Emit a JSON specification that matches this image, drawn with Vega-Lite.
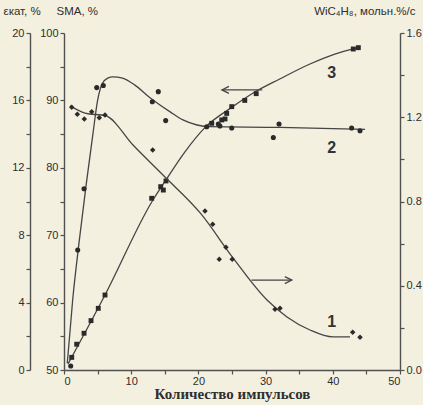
{
  "$schema": "https://vega.github.io/schema/vega-lite/v6.json",
  "width": 336,
  "height": 337,
  "autosize": {"type": "none"},
  "padding": {"left": 64, "top": 33, "right": 23, "bottom": 35},
  "background": "#f3f0e0",
  "config": {
    "view": {"stroke": null},
    "axis": {
      "grid": false,
      "domainColor": "#505050",
      "tickColor": "#505050",
      "labelColor": "#2e2e2e",
      "labelFont": "Liberation Sans",
      "labelFontSize": 11,
      "domainWidth": 1.4,
      "tickWidth": 1.2,
      "tickSize": 4,
      "labelPadding": 2,
      "titleColor": "#2e2e2e",
      "titleFont": "Liberation Sans",
      "titleFontWeight": "normal",
      "titleFontSize": 11.5
    }
  },
  "datasets": {
    "eps_pts": [
      {"x": 1.15, "v": 0.75}, {"x": 1.89, "v": 1.53}, {"x": 2.98, "v": 2.18}, {"x": 4.02, "v": 2.93},
      {"x": 5.1, "v": 3.66}, {"x": 6.1, "v": 4.45}, {"x": 13.05, "v": 10.19}, {"x": 14.39, "v": 10.88},
      {"x": 14.78, "v": 10.68}, {"x": 15.18, "v": 11.22}, {"x": 21.98, "v": 14.64}, {"x": 23.47, "v": 14.84},
      {"x": 23.96, "v": 14.9}, {"x": 24.21, "v": 15.23}, {"x": 24.96, "v": 15.63}, {"x": 26.9, "v": 16.0},
      {"x": 28.6, "v": 16.4}, {"x": 43.05, "v": 19.05}, {"x": 43.8, "v": 19.13}
    ],
    "eps_line": [
      {"x": 0.6, "v": 0.36}, {"x": 6.1, "v": 4.45}, {"x": 13.1, "v": 10.0}, {"x": 15.2, "v": 11.3},
      {"x": 18.0, "v": 12.95}, {"x": 21.0, "v": 14.4}, {"x": 25.0, "v": 15.6}, {"x": 28.4, "v": 16.5},
      {"x": 32.1, "v": 17.27}, {"x": 36.6, "v": 18.16}, {"x": 40.3, "v": 18.75}, {"x": 43.45, "v": 19.11}
    ],
    "eps_lab": [{"x": 39.84, "v": 17.61, "t": "3"}],
    "eps_arrow": [{"x": 23.5, "x2": 29.5, "v": 16.62}],
    "s_pts": [
      {"x": 1.0, "v": 50.6}, {"x": 2.04, "v": 67.8}, {"x": 2.98, "v": 76.9}, {"x": 4.87, "v": 91.9},
      {"x": 5.85, "v": 92.2}, {"x": 13.14, "v": 89.8}, {"x": 14.03, "v": 91.3}, {"x": 15.13, "v": 87.0},
      {"x": 21.24, "v": 86.1}, {"x": 22.96, "v": 86.5}, {"x": 23.2, "v": 86.2}, {"x": 24.96, "v": 85.9},
      {"x": 32.0, "v": 86.5}, {"x": 31.15, "v": 84.5}, {"x": 42.8, "v": 85.9}, {"x": 44.05, "v": 85.5}
    ],
    "s_line": [
      {"x": 0.49, "v": 51.0}, {"x": 1.3, "v": 60.5}, {"x": 2.25, "v": 69.0}, {"x": 3.3, "v": 77.5},
      {"x": 4.3, "v": 85.0}, {"x": 5.0, "v": 90.0}, {"x": 5.7, "v": 92.5}, {"x": 6.5, "v": 93.3},
      {"x": 7.3, "v": 93.5}, {"x": 8.7, "v": 93.3}, {"x": 10.5, "v": 92.3}, {"x": 12.8, "v": 90.4},
      {"x": 15.8, "v": 88.3}, {"x": 17.7, "v": 87.1}, {"x": 19.8, "v": 86.35}, {"x": 21.7, "v": 86.1},
      {"x": 32.1, "v": 86.0}, {"x": 44.8, "v": 85.7}
    ],
    "s_lab": [{"x": 39.84, "v": 82.89, "t": "2"}],
    "w_pts": [
      {"x": 1.15, "v": 1.247}, {"x": 1.98, "v": 1.214}, {"x": 3.02, "v": 1.192}, {"x": 4.12, "v": 1.226},
      {"x": 5.25, "v": 1.198}, {"x": 6.1, "v": 1.211}, {"x": 13.2, "v": 1.045}, {"x": 20.98, "v": 0.755},
      {"x": 22.13, "v": 0.692}, {"x": 24.1, "v": 0.583}, {"x": 23.1, "v": 0.526}, {"x": 25.04, "v": 0.526},
      {"x": 31.4, "v": 0.288}, {"x": 32.14, "v": 0.293}, {"x": 42.96, "v": 0.179}, {"x": 44.05, "v": 0.155}
    ],
    "w_line": [
      {"x": 0.89, "v": 1.254}, {"x": 3.13, "v": 1.22}, {"x": 6.25, "v": 1.206}, {"x": 10.27, "v": 1.068},
      {"x": 15.03, "v": 0.916}, {"x": 20.39, "v": 0.741}, {"x": 25.15, "v": 0.532}, {"x": 30.21, "v": 0.332},
      {"x": 33.18, "v": 0.252}, {"x": 36.6, "v": 0.19}, {"x": 40.03, "v": 0.157}, {"x": 42.56, "v": 0.157}
    ],
    "w_lab": [{"x": 39.84, "v": 0.229, "t": "1"}],
    "w_arrow": [{"x": 27.9, "x2": 33.9, "v": 0.427}]
  },
  "encoding": {
    "x": {
      "field": "x",
      "type": "quantitative",
      "scale": {"domain": [0, 50], "nice": false},
      "axis": {
        "values": [0, 5, 10, 15, 20, 25, 30, 35, 40, 45, 50],
        "labelExpr": "datum.value % 10 == 0 ? datum.label : ''",
        "title": "Количество импульсов",
        "titleFont": "Liberation Serif",
        "titleFontSize": 15,
        "titleFontWeight": "bold",
        "titlePadding": 0,
        "labelPadding": 1
      }
    }
  },
  "layer": [
    {
      "encoding": {
        "y": {
          "field": "v",
          "type": "quantitative",
          "scale": {"domain": [0, 20], "nice": false},
          "axis": {
            "orient": "left",
            "offset": 34,
            "values": [0, 2, 4, 6, 8, 10, 12, 14, 16, 18, 20],
            "labelExpr": "datum.value % 4 == 0 ? datum.label : ''",
            "title": "εкат, %",
            "titleAngle": 0,
            "titleAlign": "left",
            "titleBaseline": "alphabetic",
            "titleX": -27,
            "titleY": -19
          }
        }
      },
      "layer": [
        {"data": {"name": "eps_line"}, "mark": {"type": "line", "interpolate": "monotone", "color": "#454545", "strokeWidth": 1.3}},
        {"data": {"name": "eps_pts"}, "mark": {"type": "point", "shape": "square", "filled": true, "size": 24, "color": "#2a2a2a", "opacity": 1}},
        {"data": {"name": "eps_lab"}, "mark": {"type": "text", "font": "Liberation Sans", "fontSize": 16, "fontWeight": "bold", "color": "#333333"}, "encoding": {"text": {"field": "t"}}},
        {"data": {"name": "eps_arrow"}, "mark": {"type": "rule", "color": "#454545", "strokeWidth": 1.3}, "encoding": {"x2": {"field": "x2"}}},
        {"data": {"name": "eps_arrow"}, "mark": {"type": "point", "shape": "M2,-1L0,0L2,1", "filled": false, "size": 49, "color": "#454545", "strokeWidth": 1.3, "opacity": 1}}
      ]
    },
    {
      "encoding": {
        "y": {
          "field": "v",
          "type": "quantitative",
          "scale": {"domain": [50, 100], "nice": false},
          "axis": {
            "orient": "left",
            "offset": 0,
            "values": [50, 55, 60, 65, 70, 75, 80, 85, 90, 95, 100],
            "labelExpr": "datum.value % 10 == 0 ? datum.label : ''",
            "title": "SMA, %",
            "titleAngle": 0,
            "titleAlign": "left",
            "titleBaseline": "alphabetic",
            "titleX": -8,
            "titleY": -19
          }
        }
      },
      "layer": [
        {"data": {"name": "s_line"}, "mark": {"type": "line", "interpolate": "monotone", "color": "#454545", "strokeWidth": 1.3}},
        {"data": {"name": "s_pts"}, "mark": {"type": "point", "shape": "circle", "filled": true, "size": 26, "color": "#2a2a2a", "opacity": 1}},
        {"data": {"name": "s_lab"}, "mark": {"type": "text", "font": "Liberation Sans", "fontSize": 16, "fontWeight": "bold", "color": "#333333"}, "encoding": {"text": {"field": "t"}}}
      ]
    },
    {
      "encoding": {
        "y": {
          "field": "v",
          "type": "quantitative",
          "scale": {"domain": [0, 1.6], "nice": false},
          "axis": {
            "orient": "right",
            "values": [0, 0.2, 0.4, 0.6, 0.8, 1.0, 1.2, 1.4, 1.6],
            "format": ".1f",
            "labelExpr": "round(datum.value * 10) % 4 == 0 ? datum.label : ''",
            "title": "WiC₄H₈, мольн.%/с",
            "titleAngle": 0,
            "titleAlign": "right",
            "titleBaseline": "alphabetic",
            "titleX": 15,
            "titleY": -19
          }
        }
      },
      "layer": [
        {"data": {"name": "w_line"}, "mark": {"type": "line", "interpolate": "monotone", "color": "#454545", "strokeWidth": 1.3}},
        {"data": {"name": "w_pts"}, "mark": {"type": "point", "shape": "diamond", "filled": true, "size": 30, "color": "#2a2a2a", "opacity": 1}},
        {"data": {"name": "w_lab"}, "mark": {"type": "text", "font": "Liberation Sans", "fontSize": 16, "fontWeight": "bold", "color": "#333333"}, "encoding": {"text": {"field": "t"}}},
        {"data": {"name": "w_arrow"}, "mark": {"type": "rule", "color": "#454545", "strokeWidth": 1.3}, "encoding": {"x2": {"field": "x2"}}},
        {"data": {"name": "w_arrow"}, "mark": {"type": "point", "shape": "M-2,-1L0,0L-2,1", "filled": false, "size": 49, "color": "#454545", "strokeWidth": 1.3, "opacity": 1}, "encoding": {"x": {"field": "x2", "type": "quantitative"}}}
      ]
    }
  ],
  "resolve": {"scale": {"y": "independent"}, "axis": {"y": "independent"}}
}
